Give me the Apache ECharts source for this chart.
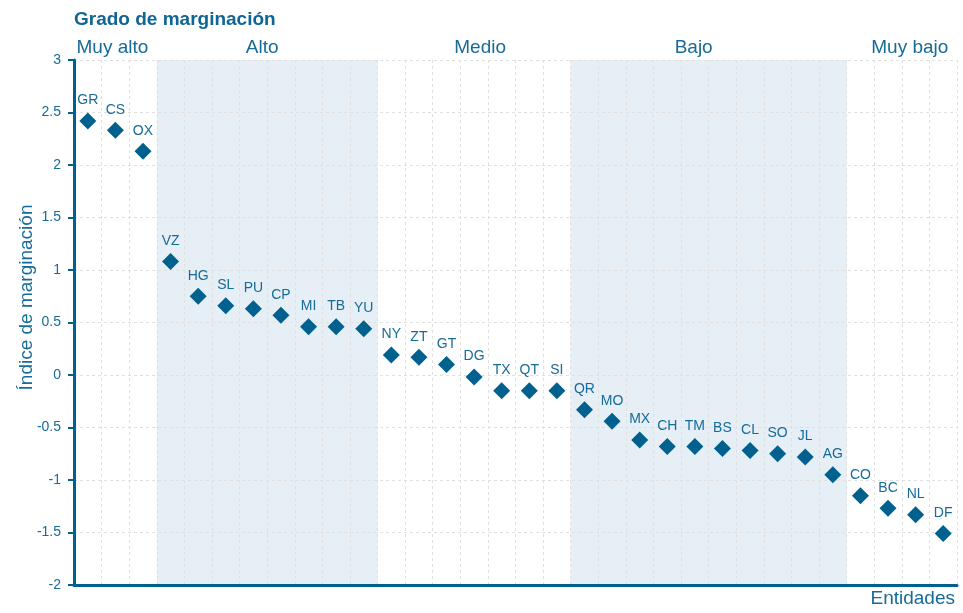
<!DOCTYPE html>
<html><head><meta charset="utf-8">
<script src="https://cdn.jsdelivr.net/npm/echarts@6/dist/echarts.min.js"></script>
<style>html,body{margin:0;padding:0;background:#fff}#c{width:963px;height:613px}</style>
</head><body><div id="c"></div>
<script>
var categories = ['GR','CS','OX','VZ','HG','SL','PU','CP','MI','TB','YU','NY','ZT','GT','DG','TX','QT','SI','QR','MO','MX','CH','TM','BS','CL','SO','JL','AG','CO','BC','NL','DF'];
var values = [2.42,2.33,2.13,1.08,0.75,0.66,0.63,0.57,0.46,0.46,0.44,0.19,0.17,0.10,-0.02,-0.15,-0.15,-0.15,-0.33,-0.44,-0.62,-0.68,-0.68,-0.70,-0.72,-0.75,-0.78,-0.95,-1.15,-1.27,-1.33,-1.51];
var groupNames = ['Muy alto','Alto','Medio','Bajo','Muy bajo'];
var groupFirst = ['GR','VZ','NY','QR','CO'];
var groupLast = ['OX','YU','SI','AG','DF'];
var groupShaded = [false,true,false,true,false];
var yTicks = [-2,-1.5,-1,-0.5,0,0.5,1,1.5,2,2.5,3];

var blue = '#00618f', textBlue = '#166b98';
var FF = 'Liberation Sans, Arial, sans-serif';
var labelOffsets = [-3,-5,6,-15,8];
var areas = groupNames.map(function(n,i){
  var a = categories.indexOf(groupFirst[i]) - 0.5, b = categories.indexOf(groupLast[i]) + 0.5;
  return [{name:n, xAxis:a, yAxis:3, itemStyle:{color: groupShaded[i] ? '#e6eef6' : 'rgba(0,0,0,0)'},
    label:{offset:[labelOffsets[i],0]}}, {xAxis:b, yAxis:-2}];
});

var chart = echarts.init(document.getElementById('c'));
chart.setOption({
  animation:false,
  title:{text:'Grado de marginación', left:69, top:5, textStyle:{color:'#0f6594', fontSize:19, fontWeight:'bold', fontFamily:FF}},
  grid:{left:74, right:6, top:60, bottom:28},
  xAxis:[{
    type:'category', data:categories, boundaryGap:true,
    axisLine:{onZero:false, lineStyle:{color:blue, width:3}}, axisTick:{show:false}, axisLabel:{show:false},
    splitLine:{show:true, lineStyle:{color:'#e0e0e0', type:[3,3], width:1}},
    name:'Entidades', nameLocation:'end', nameGap:-2, nameMoveOverlap:false,
    nameTextStyle:{color:textBlue, fontSize:19, align:'right', verticalAlign:'top', padding:[4,0,0,0], fontFamily:FF},
    z:3
  },{
    type:'value', min:-0.5, max:categories.length-0.5, show:false
  }],
  yAxis:{
    type:'value', min:-2, max:3, interval:0.5,
    axisLine:{show:true, onZero:false, lineStyle:{color:blue, width:3}},
    axisTick:{show:true, length:6, lineStyle:{color:blue, width:2}},
    axisLabel:{color:textBlue, fontSize:14, margin:13, fontFamily:FF,
      formatter:function(v){return String(v);}},
    splitLine:{show:true, lineStyle:{color:'#e0e0e0', type:[3,3], width:1}},
    name:'Índice de marginación', nameLocation:'middle', nameGap:38, nameMoveOverlap:false,
    nameTextStyle:{color:textBlue, fontSize:19, fontFamily:FF, padding:[0,0,0,50]},
    z:3
  },
  series:[{
    type:'line', xAxisIndex:1, data:[], silent:true,
    markArea:{silent:true, data:areas,
      label:{show:true, position:'top', distance:3, color:textBlue, fontSize:19, fontFamily:FF}},
    z:0
  },{
    type:'scatter', data:values, symbol:'diamond', symbolSize:17,
    itemStyle:{color:blue, opacity:1},
    label:{show:true, position:'top', distance:5, color:textBlue, fontSize:14, fontFamily:FF,
      formatter:function(p){return categories[p.dataIndex];}},
    z:5
  }]
});
</script></body></html>
